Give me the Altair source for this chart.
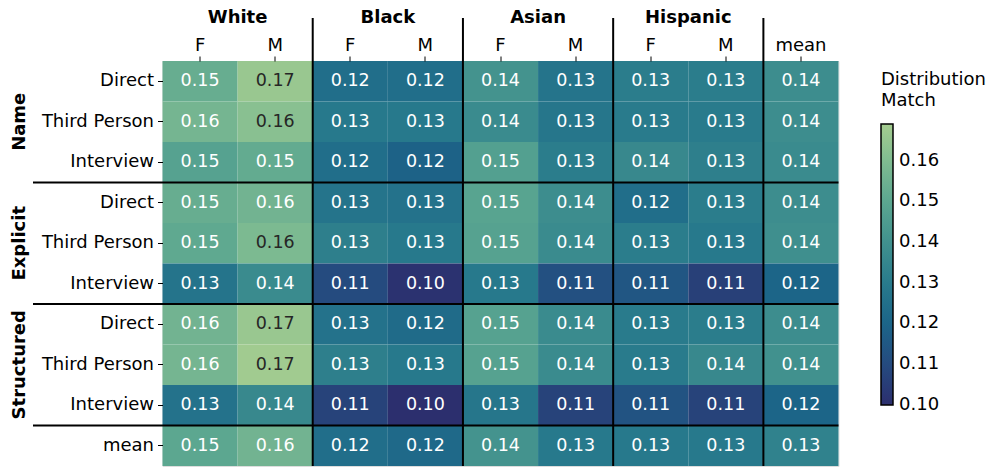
import altair as alt
import pandas as pd

# ---- data ----
cols = ["White|F", "White|M", "Black|F", "Black|M", "Asian|F", "Asian|M",
        "Hispanic|F", "Hispanic|M", "mean"]
rows = ["Name|Direct", "Name|Third Person", "Name|Interview",
        "Explicit|Direct", "Explicit|Third Person", "Explicit|Interview",
        "Structured|Direct", "Structured|Third Person", "Structured|Interview",
        "mean"]

name_direct = [0.153, 0.166, 0.124, 0.124, 0.141, 0.127, 0.131, 0.131, 0.138]
name_third = [0.157, 0.162, 0.129, 0.129, 0.137, 0.128, 0.130, 0.130, 0.138]
name_interview = [0.148, 0.152, 0.124, 0.119, 0.147, 0.131, 0.136, 0.132, 0.137]
explicit_direct = [0.153, 0.156, 0.127, 0.126, 0.149, 0.138, 0.124, 0.131, 0.138]
explicit_third = [0.151, 0.159, 0.132, 0.129, 0.148, 0.137, 0.131, 0.129, 0.139]
explicit_interview = [0.127, 0.137, 0.110, 0.101, 0.129, 0.112, 0.114, 0.106, 0.120]
structured_direct = [0.156, 0.166, 0.126, 0.123, 0.148, 0.137, 0.130, 0.131, 0.138]
structured_third = [0.157, 0.168, 0.132, 0.129, 0.148, 0.137, 0.130, 0.136, 0.140]
structured_interview = [0.126, 0.136, 0.107, 0.100, 0.128, 0.107, 0.113, 0.107, 0.120]
mean_row = [0.150, 0.156, 0.124, 0.122, 0.141, 0.129, 0.129, 0.129, 0.133]

values = [name_direct, name_third, name_interview,
          explicit_direct, explicit_third, explicit_interview,
          structured_direct, structured_third, structured_interview,
          mean_row]

col_groups = ["White", "Black", "Asian", "Hispanic"]
col_group_anchor = ["White|M", "Black|M", "Asian|M", "Hispanic|M"]
row_groups = ["Name", "Explicit", "Structured"]
row_group_anchor = ["Name|Third Person", "Explicit|Third Person", "Structured|Third Person"]
col_cuts = ["Black|F", "Asian|F", "Hispanic|F", "mean"]
row_cuts = ["Explicit|Direct", "Structured|Direct", "mean"]
legend_ticks = [0.10, 0.11, 0.12, 0.13, 0.14, 0.15, 0.16]

# crest colormap (reversed: high = light green)
cmap_domain = [0.0999, 0.10986, 0.11971, 0.12957, 0.13943, 0.14929, 0.15914, 0.169]
cmap_range = ["#2c2f6e", "#254b7f", "#1c6488", "#287a8c", "#40908e", "#59a590", "#7dba91", "#a5cd90"]

cells = pd.DataFrame([
    {"row": r, "col": c, "v": values[i][j]}
    for i, r in enumerate(rows) for j, c in enumerate(cols)
])
colgrp_df = pd.DataFrame({"col": col_group_anchor, "name": col_groups})
rowgrp_df = pd.DataFrame({"row": row_group_anchor, "name": row_groups})
vcut_df = pd.DataFrame({"col": col_cuts})
hcut_df = pd.DataFrame({"row": row_cuts})

W, H = 676, 405
FONT = "DejaVu Sans"
FS = 18
FS_CELL = 17.5

label_expr = "indexof(datum.label, '|') >= 0 ? split(datum.label, '|')[1] : datum.label"

xscale = alt.Scale(domain=cols, paddingInner=0, paddingOuter=0)
yscale = alt.Scale(domain=rows, paddingInner=0, paddingOuter=0)
xaxis = alt.Axis(orient="top", labelExpr=label_expr, labelAngle=0, domain=False,
                 tickSize=5, tickColor="black", tickWidth=1, labelPadding=2,
                 labelFont=FONT, labelFontSize=FS, labelColor="black", title=None)
yaxis = alt.Axis(orient="left", labelExpr=label_expr, domain=False,
                 tickSize=5, tickColor="black", tickWidth=1, labelPadding=4,
                 labelFont=FONT, labelFontSize=FS, labelColor="black", title=None)


def X(**kw):
    return alt.X("col:N", scale=xscale, axis=xaxis, **kw)


def Y(**kw):
    return alt.Y("row:N", scale=yscale, axis=yaxis, **kw)


heat = alt.Chart(cells).mark_rect().encode(
    x=X(), y=Y(),
    color=alt.Color(
        "v:Q",
        scale=alt.Scale(domain=cmap_domain, range=cmap_range, interpolate="rgb"),
        legend=alt.Legend(
            orient="none", legendX=718.5, legendY=10, direction="vertical",
            title=["Distribution", "Match"], titleFont=FONT, titleFontSize=FS,
            titleFontWeight="normal", titleColor="black", titleLineHeight=21,
            titlePadding=14, titleAnchor="start",
            gradientLength=281, gradientThickness=12,
            gradientStrokeColor="black", gradientStrokeWidth=1.5,
            values=legend_ticks, format=".2f",
            labelFont=FONT, labelFontSize=FS, labelColor="black",
            labelOffset=6, labelBaseline="middle", labelOverlap=False,
        ),
    ),
)

text = alt.Chart(cells).mark_text(font=FONT, fontSize=FS_CELL).encode(
    x=X(), y=Y(),
    text=alt.Text("v:Q", format=".2f"),
    color=alt.condition("datum.v >= 0.159", alt.value("#262626"), alt.value("white")),
)

vrules = alt.Chart(vcut_df).mark_rule(color="black", strokeWidth=2).encode(
    x=X(bandPosition=0), y=alt.value(-43), y2=alt.value(H),
)
hrules = alt.Chart(hcut_df).mark_rule(color="black", strokeWidth=2).encode(
    y=Y(bandPosition=0), x=alt.value(-129.5), x2=alt.value(W),
)

col_labels = alt.Chart(colgrp_df).mark_text(
    font=FONT, fontSize=FS, fontWeight="bold", baseline="alphabetic", color="black"
).encode(x=X(bandPosition=0), y=alt.value(-38), text="name:N")

row_labels = alt.Chart(rowgrp_df).mark_text(
    font=FONT, fontSize=FS, fontWeight="bold", baseline="alphabetic",
    align="center", angle=270, color="black"
).encode(y=Y(), x=alt.value(-137.5), text="name:N")

chart = alt.layer(heat, text, vrules, hrules, col_labels, row_labels).properties(
    width=W, height=H,
    autosize=alt.AutoSizeParams(type="none"),
    padding={"left": 154.5, "top": 53, "right": 149.5, "bottom": 2},
).configure_view(stroke=None).configure(font=FONT)

chart.save("out.html", embed_options={"renderer": "svg", "actions": False})
